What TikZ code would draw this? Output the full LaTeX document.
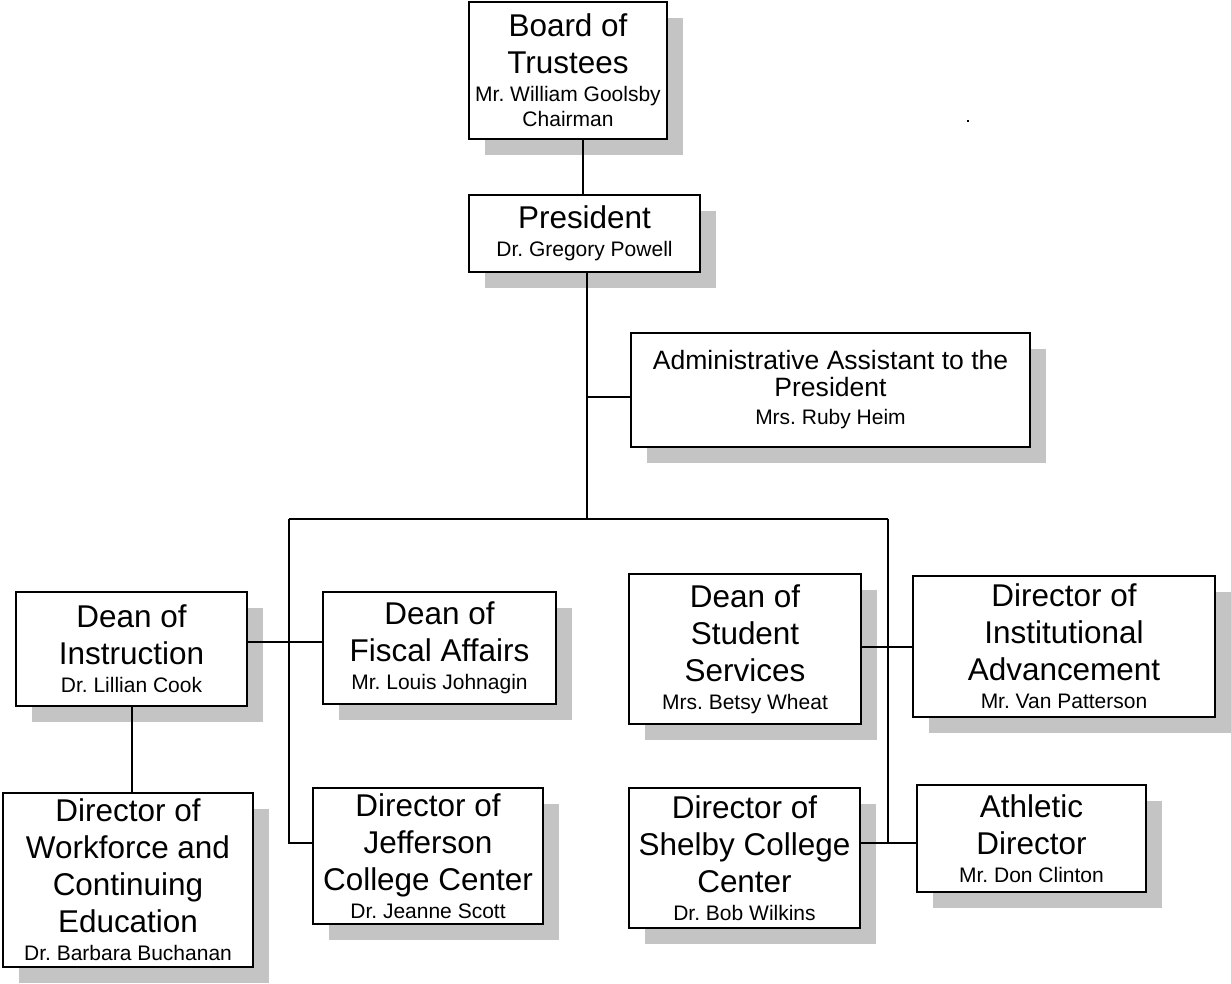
\documentclass[tikz,border=0pt]{standalone}
\usepackage{fontspec}
\setmainfont{Liberation Sans}
\usetikzlibrary{shadows}
\frenchspacing

% text sizes: office titles, names, and the smaller title of the assistant box
\newcommand{\TitleSz}{\fontsize{23.6pt}{27.75pt}\selectfont}
\newcommand{\NameSz}{\fontsize{15.75pt}{18.75pt}\selectfont}
\newcommand{\SmallTitleSz}{\fontsize{19.9pt}{22.9pt}\selectfont}

\definecolor{shadowgray}{RGB}{196,196,196}

% a box given by its corners (x1,y1) and (x2,y2) in pixel units
\newcommand{\orgbox}[6]{%
  \node[unitbox, minimum width={(#4-#2)*0.75pt}, minimum height={(#5-#3)*0.75pt}]
    (#1) at (#2,#3) {#6};}

\begin{document}
\begin{tikzpicture}[
  x=0.75pt, y=-0.75pt,
  unitbox/.style={draw=black, line width=1.5pt, fill=white, anchor=north west,
    inner sep=0pt, outer sep=0pt, align=center, font=\TitleSz,
    general shadow={fill=shadowgray, shadow xshift=12pt, shadow yshift=-12pt}},
  link/.style={draw=black, line width=1.5pt},
]
\useasboundingbox (0,0) rectangle (1231,983);

\orgbox{board}{469}{2}{667}{139}{Board of\\Trustees\\[-6.75pt]{\NameSz Mr. William Goolsby}\\[-9pt]{\NameSz Chairman}}
\orgbox{pres}{469}{195}{700}{272}{President\\[-6.75pt]{\NameSz Dr. Gregory Powell}}
\orgbox{adm}{631}{333}{1030}{447}{\SmallTitleSz Administrative Assistant to the\\[-7.5pt]{\SmallTitleSz President}\\[-6.75pt]{\NameSz Mrs. Ruby Heim}}

\orgbox{instr}{16}{592}{247}{706}{Dean of\\Instruction\\[-6.75pt]{\NameSz Dr. Lillian Cook}}
\orgbox{fisc}{323}{592}{556}{704}{Dean of\\Fiscal Affairs\\[-6.75pt]{\NameSz Mr. Louis Johnagin}}
\orgbox{stu}{629}{574}{861}{724}{Dean of\\Student\\Services\\[-6.75pt]{\NameSz Mrs. Betsy Wheat}}
\orgbox{adv}{913}{576}{1215}{717}{Director of\\Institutional\\Advancement\\[-6.75pt]{\NameSz Mr. Van Patterson}}

\orgbox{work}{3}{793}{253}{967}{Director of\\Workforce and\\Continuing\\Education\\[-6.75pt]{\NameSz Dr. Barbara Buchanan}}
\orgbox{jeff}{313}{788}{543}{924}{Director of\\Jefferson\\College Center\\[-6.75pt]{\NameSz Dr. Jeanne Scott}}
\orgbox{shel}{629}{788}{860}{928}{Director of\\Shelby College\\Center\\[-6.75pt]{\NameSz Dr. Bob Wilkins}}
\orgbox{ath}{917}{785}{1146}{892}{Athletic\\Director\\[-6.75pt]{\NameSz Mr. Don Clinton}}

% junction points of the reporting lines
\coordinate (trunk) at (587,519);
\coordinate (busL) at (289,519);
\coordinate (busR) at (888,519);
\coordinate (admj) at (587,397);
\coordinate (leftj) at (289,843);
\coordinate (rightj) at (888,843);
\coordinate (deanj) at (289,642);
\coordinate (topj) at (583,139);

% board to president
\draw[link] (topj |- board.south) -- (topj |- pres.north);
% president down to the division bus, with the assistant branch
\draw[link] (pres.south -| trunk) -- (trunk);
\draw[link] (admj) -- (admj -| adm.west);
\draw[link] (busL) -- (busR);
% left branch
\draw[link] (busL) -- (leftj) -- (leftj -| jeff.west);
\draw[link] (deanj -| instr.east) -- (deanj -| fisc.west);
\draw[link] (instr.south) -- (instr.south |- work.north);
% right branch
\draw[link] (busR) -- (rightj);
\draw[link] (rightj -| shel.east) -- (rightj -| ath.west);
\draw[link] (stu.east |- adv.west) -- (adv.west);

% small stray mark to the right of the board
\fill[black] (967,120) rectangle (969,122);
\end{tikzpicture}
\end{document}
